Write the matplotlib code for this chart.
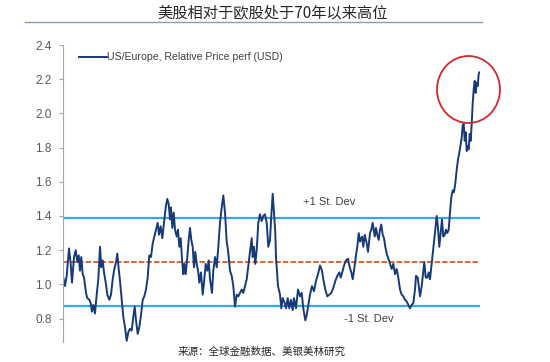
import matplotlib
matplotlib.use("Agg")
from matplotlib import pyplot as plt
from matplotlib.patches import Ellipse
from matplotlib.lines import Line2D

plt.rcParams['font.family'] = ['Liberation Sans', 'Noto Sans CJK SC', 'DejaVu Sans']

# data (time axis has no labels, so t is a position index)
t = [0.3, 2, 3.7, 6, 7.7, 9, 11, 12.7, 14.3, 15.7,
     17, 18.3, 19.7, 21, 23, 24.3, 26.3, 27.7, 29, 30.3,
     32, 33.7, 35.3, 37, 38.3, 39.7, 41, 43, 44.3, 46.3,
     48, 49.7, 51.3, 53, 54.3, 55.7, 57, 58.7, 60.3, 62,
     63.7, 65.3, 67, 68.7, 70.3, 71.7, 73, 74.7, 76.3, 78,
     79.7, 81.3, 83, 84.7, 86.3, 88, 89.7, 91.3, 93, 94.7,
     96, 97.7, 99.3, 101, 102.7, 104.3, 105.7, 107, 108, 109.3,
     110.7, 112, 113.7, 115, 116.3, 117.7, 119, 120.3, 121.3, 122.7,
     124.3, 125.7, 127, 128.3, 129.7, 131, 132.3, 133.7, 135.3, 136.3,
     138, 139.7, 141, 142.7, 144.3, 145.7, 147, 149, 150.3, 152,
     153.7, 155.3, 157, 158.7, 160.3, 162, 163.7, 165, 167, 168.7,
     170.3, 172, 173.7, 175.3, 177, 178.7, 180.3, 182, 183.7, 185.3,
     187, 188.7, 189.7, 191, 192.3, 193.7, 195.3, 197, 198.7, 200.3,
     202, 203.7, 205.3, 207, 208.3, 209.7, 211, 212.3,
     213, 215, 217, 218.3, 219.7, 221.7, 223, 224.7, 226.3, 228,
     229.7, 231, 233, 235, 237, 238.7, 240.3, 242.3, 243.7, 245.3,
     247, 249, 251, 253, 255, 257, 259, 260.3, 262.3, 264.3,
     266.3, 268.3, 270.3, 272.3, 274.3, 276.3, 277.7, 279.7, 281, 283,
     285, 286.3, 288.3, 289.7, 291, 293, 294.3, 295.7, 297, 299,
     300.3, 301.7, 303.7, 305, 307, 308.3, 309.7, 311.7, 313, 314.3,
     315.7, 317, 318.3, 319.7, 321, 322.3, 323.7, 325.3, 327, 328.7,
     330.3, 332, 333.7, 335.3, 337, 338.7, 340.3, 342, 343.7, 345.3,
     347, 348.7, 350.3, 352, 353, 354.7, 356, 357, 358.7, 360.3,
     361.3, 362.7, 364.3, 365.7, 367, 368.3, 369.7, 371, 372.3, 373.7,
     375, 376.3, 377.7, 379, 380.3, 381.7, 383, 384.3, 385.7, 387,
     388.3, 389.7, 391, 392.3,
     393.7, 395, 396.3, 397.7, 398.7, 399.7, 400.7, 401.7, 402.7, 403.7,
     404.7, 405.7, 406.7, 407.7, 408.7, 409.7, 410.7, 411.7, 412.7, 413.7,
     414.7, 415.7, 416.3]

rel_perf = [1.04, 0.99, 1.05, 1.21, 1.12, 1.01, 1.16, 1.20, 1.13, 1.17,
            1.08, 1.16, 1.06, 1.04, 0.95, 0.92, 0.91, 0.89, 0.84, 0.88,
            0.83, 0.94, 1.03, 1.22, 1.10, 1.14, 1.07, 1.00, 0.94, 0.91,
            0.94, 1.03, 1.09, 1.13, 1.18, 1.09, 1.02, 0.91, 0.81, 0.75,
            0.67, 0.72, 0.74, 0.73, 0.81, 0.87, 0.79, 0.71, 0.75, 0.82,
            0.91, 0.93, 0.97, 1.04, 1.17, 1.16, 1.24, 1.28, 1.32, 1.36,
            1.29, 1.34, 1.27, 1.36, 1.45, 1.50, 1.47, 1.38, 1.45, 1.33,
            1.42, 1.32, 1.28, 1.32, 1.22, 1.27, 1.15, 1.06, 1.12, 1.06,
            1.16, 1.26, 1.33, 1.26, 1.22, 1.10, 1.19, 1.12, 1.07, 1.01,
            1.07, 0.94, 1.01, 1.12, 1.08, 1.14, 1.03, 0.95, 1.08, 1.16,
            1.10, 1.22, 1.36, 1.45, 1.52, 1.42, 1.25, 1.20, 1.08, 1.05,
            0.99, 0.87, 0.94, 0.93, 0.95, 0.97, 0.95, 0.99, 1.03, 1.11,
            1.19, 1.27, 1.16, 1.22, 1.12, 1.20, 1.36, 1.41, 1.37, 1.40,
            1.41, 1.36, 1.22, 1.26, 1.40, 1.53, 1.42, 1.30,
            1.16, 0.99, 0.94, 0.86, 0.92, 0.89, 0.86, 0.92, 0.86, 0.91,
            0.85, 0.92, 0.86, 0.97, 0.93, 0.95, 0.86, 0.79, 0.82, 0.88,
            0.94, 0.99, 0.96, 1.02, 1.06, 1.11, 1.08, 1.03, 0.97, 0.93,
            0.94, 0.95, 0.98, 1.02, 1.05, 1.07, 1.04, 1.08, 1.11, 1.14,
            1.15, 1.11, 1.07, 1.03, 1.08, 1.17, 1.22, 1.30, 1.25, 1.28,
            1.22, 1.29, 1.24, 1.19, 1.30, 1.32, 1.36, 1.28, 1.33, 1.29,
            1.26, 1.32, 1.35, 1.29, 1.27, 1.22, 1.18, 1.15, 1.12, 1.09,
            1.12, 1.06, 1.09, 1.04, 0.97, 0.94, 0.93, 0.91, 0.90, 0.88,
            0.86, 0.88, 0.89, 0.97, 1.05, 1.04, 0.98, 0.93, 0.99, 1.08,
            1.13, 1.04, 1.04, 1.07, 1.03, 1.10, 1.18, 1.24, 1.32, 1.40,
            1.33, 1.22, 1.30, 1.38, 1.28, 1.29, 1.32, 1.30, 1.32, 1.42,
            1.51, 1.55, 1.54, 1.59,
            1.67, 1.73, 1.77, 1.82, 1.86, 1.93, 1.94, 1.84, 1.89, 1.78,
            1.81, 1.79, 1.88, 1.84, 1.94, 2.06, 2.14, 2.19, 2.12, 2.18,
            2.16, 2.23, 2.24]

mean_level = 1.13
plus_sd = 1.39
minus_sd = 0.875
y_ticks = [0.8, 1.0, 1.2, 1.4, 1.6, 1.8, 2.0, 2.2, 2.4]

title = "美股相对于欧股处于70年以来高位"
series_name = "US/Europe, Relative Price perf (USD)"
source = "来源：全球金融数据、美银美林研究"

fig = plt.figure(figsize=(5.5, 3.62), dpi=100)
ax = fig.add_axes([63 / 550, 1 - 342 / 362, 417 / 550, 297 / 362])

ax.axhline(plus_sd, color='#2eaee0', lw=1.6)
ax.axhline(minus_sd, color='#2eaee0', lw=1.6)
ax.axhline(mean_level, color='#d65a24', lw=1.3, ls=(0, (3, 1.2)))
ax.plot(t, rel_perf, color='#173a78', lw=1.4)

ax.set_xlim(0, 417)
ax.set_ylim(0.663, 2.4)
ax.set_yticks(y_ticks)
ax.set_yticklabels(["%.1f" % v for v in y_ticks])
ax.set_xticks([])
for s in ['top', 'right', 'bottom']:
    ax.spines[s].set_visible(False)
ax.spines['left'].set_color('#a6a6a6')
ax.tick_params(axis='y', direction='out', length=3, color='#a6a6a6',
               labelsize=8.5, labelcolor='#595959', pad=5)

ax.legend([Line2D([0], [0], color='#173a78', lw=1.4)], [series_name],
          loc='upper left', bbox_to_anchor=(0.02, 1.0), frameon=False,
          handlelength=2.7, handletextpad=0.0, fontsize=7.6,
          labelcolor='#404040', borderaxespad=0.3)

ax.text(0.575, 0.472, "+1 St. Dev", transform=ax.transAxes, fontsize=8,
        color='#404040', ha='left', va='center')
ax.text(0.673, 0.079, "-1 St. Dev", transform=ax.transAxes, fontsize=8,
        color='#404040', ha='left', va='center')

fig.text(0.495, 1 - 13 / 362, title, ha='center', va='center', fontsize=11,
         family=['Noto Sans CJK SC'], color='#262626')
fig.add_artist(Line2D([25 / 550, 482 / 550], [1 - 22 / 362, 1 - 22 / 362],
                      transform=fig.transFigure, color='#8a9bb0', lw=1.0))
fig.text(178 / 550, 1 - 352 / 362, source, ha='left', va='center',
         fontsize=7.6, family=['Noto Sans CJK SC'], color='#262626')

fig.add_artist(Ellipse((468.5 / 550, 1 - 89.5 / 362), 63 / 550, 67 / 362,
                       transform=fig.transFigure, fill=False,
                       edgecolor='#d7262b', lw=1.3))

fig.savefig("out.png", dpi=100)
